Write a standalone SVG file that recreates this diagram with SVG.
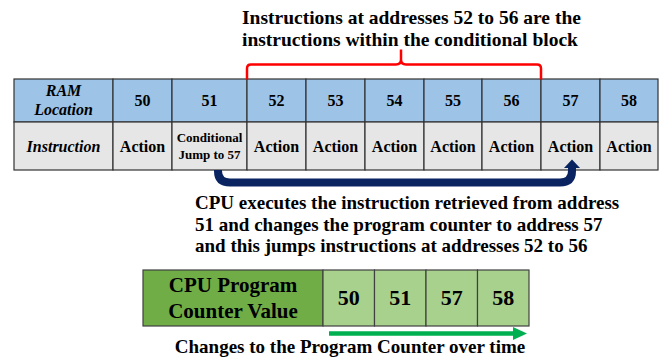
<svg xmlns="http://www.w3.org/2000/svg" width="661" height="360" viewBox="0 0 661 360" font-family="Liberation Serif, serif" font-weight="bold">
<style>
.c{text-anchor:middle}
.hd{fill:#9dc3e6;stroke:#333333;stroke-width:1.2}
.rw{fill:#e7e6e6;stroke:#333333;stroke-width:1.2}
.t16{font-size:16px}
.t13{font-size:13px}
.it{font-style:italic}
.big{font-size:19.5px}
.pc{fill:#a9d18e;stroke:#404040;stroke-width:1.2}
</style>
<rect width="661" height="360" fill="#fff"/>
<g id="title" font-family="Liberation Serif, serif" font-weight="bold">
<text class="big" x="242" y="24">Instructions at addresses 52 to 56 are the</text>
<text class="big" x="242" y="46">instructions within the conditional block</text>
</g>
<g id="ram-table" font-family="Liberation Serif, serif" font-weight="bold">
<g id="col-label">
<rect class="hd" x="14" y="79" width="99" height="43"/>
<rect class="rw" x="14" y="122" width="99" height="48"/>
<text class="c t16 it" x="63.5" y="95.5">RAM</text>
<text class="c t16 it" x="63.5" y="114.5">Location</text>
<text class="c t16 it" x="63.5" y="151.5">Instruction</text>
</g>
<g id="col-50">
<rect class="hd" x="113" y="79" width="59" height="43"/>
<rect class="rw" x="113" y="122" width="59" height="48"/>
<text class="c t16" x="142.5" y="106">50</text>
<text class="c t16" x="142.5" y="151.5">Action</text>
</g>
<g id="col-51">
<rect class="hd" x="172" y="79" width="75" height="43"/>
<rect class="rw" x="172" y="122" width="75" height="48"/>
<text class="c t16" x="209.5" y="106">51</text>
<text class="c t13" x="209.5" y="141.5">Conditional</text>
<text class="c t13" x="209.5" y="159">Jump to 57</text>
</g>
<g id="col-52">
<rect class="hd" x="247" y="79" width="59" height="43"/>
<rect class="rw" x="247" y="122" width="59" height="48"/>
<text class="c t16" x="276.5" y="106">52</text>
<text class="c t16" x="276.5" y="151.5">Action</text>
</g>
<g id="col-53">
<rect class="hd" x="306" y="79" width="59" height="43"/>
<rect class="rw" x="306" y="122" width="59" height="48"/>
<text class="c t16" x="335.5" y="106">53</text>
<text class="c t16" x="335.5" y="151.5">Action</text>
</g>
<g id="col-54">
<rect class="hd" x="365" y="79" width="59" height="43"/>
<rect class="rw" x="365" y="122" width="59" height="48"/>
<text class="c t16" x="394.5" y="106">54</text>
<text class="c t16" x="394.5" y="151.5">Action</text>
</g>
<g id="col-55">
<rect class="hd" x="424" y="79" width="58" height="43"/>
<rect class="rw" x="424" y="122" width="58" height="48"/>
<text class="c t16" x="453" y="106">55</text>
<text class="c t16" x="453" y="151.5">Action</text>
</g>
<g id="col-56">
<rect class="hd" x="482" y="79" width="59" height="43"/>
<rect class="rw" x="482" y="122" width="59" height="48"/>
<text class="c t16" x="511.5" y="106">56</text>
<text class="c t16" x="511.5" y="151.5">Action</text>
</g>
<g id="col-57">
<rect class="hd" x="541" y="79" width="59" height="43"/>
<rect class="rw" x="541" y="122" width="59" height="48"/>
<text class="c t16" x="570.5" y="106">57</text>
<text class="c t16" x="570.5" y="151.5">Action</text>
</g>
<g id="col-58">
<rect class="hd" x="600" y="79" width="58" height="43"/>
<rect class="rw" x="600" y="122" width="58" height="48"/>
<text class="c t16" x="629" y="106">58</text>
<text class="c t16" x="629" y="151.5">Action</text>
</g>
</g>
<g id="explanation" font-family="Liberation Serif, serif" font-weight="bold" font-size="19">
<text x="195" y="209">CPU executes the instruction retrieved from address</text>
<text x="195" y="231">51 and changes the program counter to address 57</text>
<text x="195" y="252">and this jumps instructions at addresses 52 to 56</text>
</g>
<g id="program-counter" font-family="Liberation Serif, serif" font-weight="bold" font-size="21">
<rect x="143" y="270" width="180" height="56" fill="#70ad47" stroke="#404040" stroke-width="1.2"/>
<text class="c" x="233" y="292">CPU Program</text>
<text class="c" x="233" y="318">Counter Value</text>
<rect class="pc" x="323" y="270" width="51.5" height="56"/>
<rect class="pc" x="374.5" y="270" width="51.5" height="56"/>
<rect class="pc" x="426" y="270" width="51.5" height="56"/>
<rect class="pc" x="477.5" y="270" width="51.5" height="56"/>
<text class="c" x="348.75" y="305" font-size="22">50</text>
<text class="c" x="400.25" y="305" font-size="22">51</text>
<text class="c" x="451.75" y="305" font-size="22">57</text>
<text class="c" x="503.25" y="305" font-size="22">58</text>
<text class="c" x="350" y="353" font-size="19">Changes to the Program Counter over time</text>
</g>
<g id="connectors">
<path d="M247,79.5 V68.5 Q247,64.5 251,64.5 H396 Q401,64.5 401,59.5 V49.5 M401,59.5 Q401,64.5 406,64.5 H537 Q541,64.5 541,68.5 V79.5" fill="none" stroke="#ff0000" stroke-width="2.5"/>
<path d="M218,170 V171 Q218,182.5 230,182.5 H560 Q572,182.5 572,171 V167" fill="none" stroke="#0a2462" stroke-width="8"/>
<polygon points="564,168 580,168 572,159.5" fill="#0a2462"/>
<line x1="329" y1="333.5" x2="514" y2="333.5" stroke="#00b050" stroke-width="4.5"/>
<polygon points="513,327 527,333.5 513,340" fill="#00b050"/>
</g>
</svg>
